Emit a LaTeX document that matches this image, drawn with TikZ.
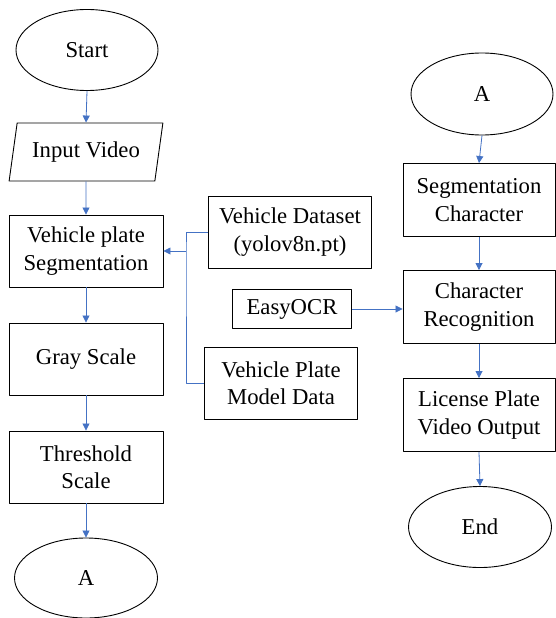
\documentclass[tikz,border=0pt]{standalone}
\usepackage{fontspec}
\setmainfont{Liberation Serif}
\usetikzlibrary{shapes.geometric,arrows.meta}
\definecolor{flowblue}{RGB}{68,114,196}
\begin{document}
\begin{tikzpicture}[x=1pt,y=1pt,font=\fontsize{22.7}{27.5}\selectfont,line join=round,
  box/.style={draw,line width=0.9pt,align=center,inner sep=0pt},
  term/.style={box,ellipse,minimum width=142,minimum height=81},
  proc/.style={box,rectangle,minimum width=154,minimum height=72},
  flow/.style={draw=flowblue,line width=0.8pt,-{Triangle[width=7pt,length=7pt]}}]
\useasboundingbox (0,0) rectangle (555,-618);
% left column
\node[term] (start) at (87,-50) {Start};
\node[box,trapezium,trapezium left angle=73,trapezium right angle=107,
  trapezium stretches=true,minimum width=154,minimum height=58] (inp) at (86,-152) {Input Video};
\node[proc] (seg) at (86,-251) {Vehicle plate\\Segmentation};
\node[proc] (gray) at (86,-359) {Gray Scale};
\node[proc] (thr) at (86,-467) {Threshold\\Scale};
\node[term,minimum width=143,minimum height=80] (aL) at (86,-578) {A};
% middle column
\node[proc,minimum width=163] (vds) at (290,-232) {Vehicle Dataset\\(yolov8n.pt)};
\node[proc,minimum width=119,minimum height=39] (ocr) at (292,-309) {EasyOCR};
\node[proc,minimum width=153] (vpm) at (281,-383) {Vehicle Plate\\Model Data};
% right column
\node[term,minimum height=82] (aR) at (482,-94) {A};
\node[proc,minimum width=152,minimum height=73] (segc) at (479,-200) {Segmentation\\Character};
\node[proc,minimum width=152,minimum height=73] (crec) at (479,-307) {Character\\Recognition};
\node[proc,minimum width=152,minimum height=73] (lpo) at (479,-415) {License Plate\\Video Output};
\node[term,minimum width=143] (endn) at (480,-527) {End};
% connectors
\foreach \a/\b in {start/inp, inp/seg, seg/gray, gray/thr, thr/aL, aR/segc, segc/crec, crec/lpo, lpo/endn}
  \draw[flow] (\a.south) -- (\b.north);
\coordinate (join) at (186,-251);
\draw[flowblue,line width=0.8pt] (vds.west) -| (join) |- (vpm.west);
\draw[flow] (join) -- (seg.east);
\draw[flow] (ocr.east) -- (ocr.east -| crec.west);
\end{tikzpicture}
\end{document}
